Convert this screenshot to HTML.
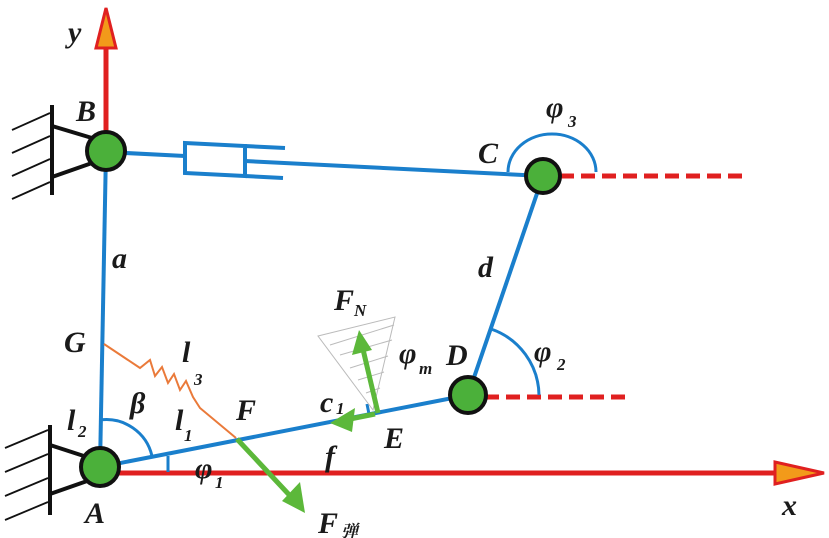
<!DOCTYPE html>
<html><head><meta charset="utf-8"><style>html,body{margin:0;padding:0;background:#fff}svg{display:block}text{font-family:"Liberation Serif","Noto Serif CJK SC",serif;font-style:italic;font-weight:bold;fill:#1a1a1a}</style></head><body>
<svg width="829" height="538" viewBox="0 0 829 538" xmlns="http://www.w3.org/2000/svg">
<rect width="829" height="538" fill="#fff"/>
<line x1="106" y1="150" x2="106" y2="45" stroke="#e02020" stroke-width="5"/>
<polygon points="106,8 96,48 116,48" fill="#f29a1a" stroke="#e02020" stroke-width="3"/>
<line x1="100" y1="473" x2="780" y2="473" stroke="#e02020" stroke-width="5"/>
<polygon points="824,473 775,462 775,484" fill="#f29a1a" stroke="#e02020" stroke-width="3"/>
<line x1="560" y1="176" x2="745" y2="176" stroke="#e02020" stroke-width="5" stroke-dasharray="14,7"/>
<line x1="485" y1="397" x2="625" y2="397" stroke="#e02020" stroke-width="5" stroke-dasharray="14,7"/>
<g stroke="#111" stroke-width="4" fill="none">
<line x1="52" y1="105" x2="52" y2="195"/>
<polyline points="52,126 92,138"/><polyline points="52,177 92,163"/>
<line x1="50" y1="515" x2="50" y2="425"/>
<polyline points="50,445 90,458"/><polyline points="50,494 90,480"/>
</g>
<g stroke="#111" stroke-width="1.8">
<line x1="12" y1="130" x2="50" y2="113"/><line x1="12" y1="153" x2="50" y2="136"/><line x1="12" y1="176" x2="50" y2="159"/><line x1="12" y1="199" x2="50" y2="182"/>
<line x1="5" y1="448" x2="48" y2="430"/><line x1="5" y1="472" x2="48" y2="454"/><line x1="5" y1="496" x2="48" y2="478"/><line x1="5" y1="520" x2="48" y2="502"/>
</g>
<g stroke="#1a7fcc" stroke-width="4" fill="none">
<line x1="106" y1="150" x2="100" y2="467"/>
<line x1="106" y1="152" x2="185" y2="156"/>
<polygon points="185,143 245,146 245,176 185,173"/>
<line x1="245" y1="146" x2="285" y2="148"/>
<line x1="245" y1="176" x2="283" y2="178"/>
<line x1="245" y1="161" x2="543" y2="176"/>
<line x1="543" y1="176" x2="468" y2="395"/>
<line x1="100" y1="467" x2="468" y2="395"/>
<path d="M508,172 A44,38 0 0 1 596,172" stroke-width="3"/>
<path d="M491,329 A71,71 0 0 1 539,395" stroke-width="3"/>
<path d="M100,420 A47,47 0 0 1 152,456" stroke-width="3"/>
<line x1="168" y1="456" x2="168" y2="472" stroke-width="3"/>
<path d="M367,404 L369,414 L379,412" stroke-width="3"/>
</g>
<polyline points="104,344 140,368 150,360 155,376 162,367 168,383 174,374 180,390 186,381 193,397 200,408 236,438" fill="none" stroke="#ea7a3a" stroke-width="2"/>
<g stroke="#bbb" stroke-width="1" fill="none">
<polygon points="318,336 395,317 373,410"/>
<line x1="330" y1="345" x2="394" y2="325"/><line x1="340" y1="355" x2="392" y2="340"/><line x1="350" y1="368" x2="388" y2="356"/><line x1="358" y1="380" x2="384" y2="372"/><line x1="366" y1="393" x2="380" y2="388"/>
</g>
<g stroke="#5cb83a" stroke-width="5" fill="#5cb83a">
<line x1="378" y1="413" x2="362" y2="345"/>
<polygon points="359,330 352,355 372,350" stroke="none"/>
<line x1="375" y1="414" x2="345" y2="420"/>
<polygon points="330,423 355,408 352,432" stroke="none"/>
<line x1="237" y1="439" x2="294" y2="500"/>
<polygon points="305,513 282,501 300,482" stroke="none"/>
</g>
<g fill="#4bb03a" stroke="#111" stroke-width="4">
<circle cx="106" cy="151" r="19"/><circle cx="100" cy="467" r="19"/>
<circle cx="543" cy="176" r="17"/><circle cx="468" cy="395" r="18"/>
</g>
<g font-size="30">
<text x="68" y="42">y</text><text x="76" y="121">B</text><text x="478" y="163">C</text>
<text x="112" y="268">a</text><text x="478" y="277">d</text><text x="64" y="352">G</text>
<text x="446" y="365">D</text><text x="236" y="420">F</text><text x="384" y="448">E</text>
<text x="85" y="523">A</text><text x="782" y="515">x</text>
<text x="130" y="413">β</text><text x="325" y="466">f</text>
<text x="546" y="117">φ</text><text x="534" y="361">φ</text><text x="399" y="363">φ</text>
<text x="195" y="478">φ</text>
<text x="182" y="362">l</text><text x="175" y="430">l</text><text x="67" y="430">l</text>
<text x="320" y="412">c</text>
<text x="334" y="310">F</text><text x="318" y="533">F</text>
</g>
<g font-size="17">
<text x="568" y="127" font-style="normal">3</text><text x="557" y="370" font-style="normal">2</text>
<text x="419" y="374">m</text><text x="215" y="488" font-style="normal">1</text>
<text x="194" y="385" font-style="normal">3</text><text x="184" y="441" font-style="normal">1</text>
<text x="78" y="437" font-style="normal">2</text><text x="336" y="414" font-style="normal">1</text>
<text x="354" y="316">N</text>
<text x="341" y="537" font-style="normal" font-family="Noto Sans CJK SC,sans-serif">弹</text>
</g>
</svg>
</body></html>
